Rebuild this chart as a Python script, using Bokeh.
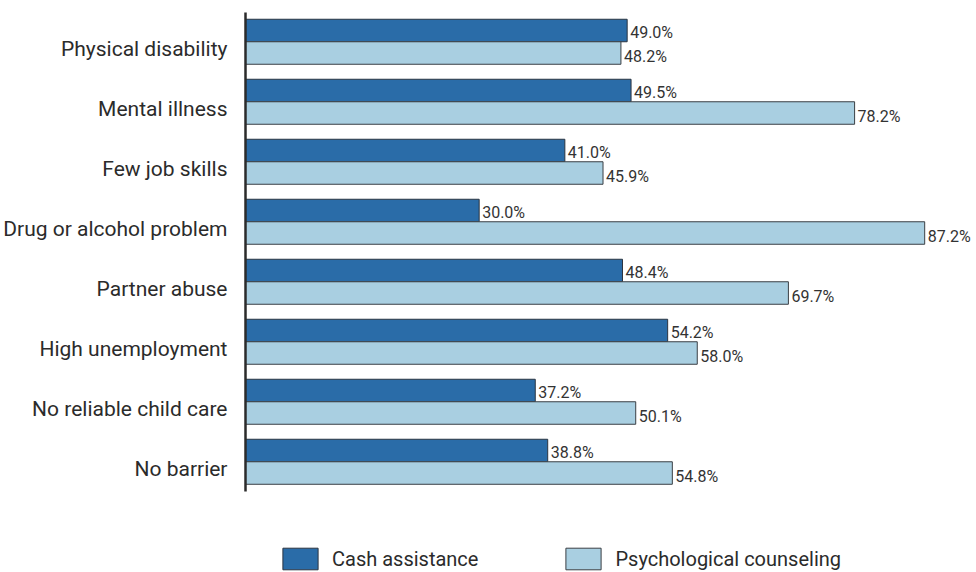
from bokeh.plotting import figure
from bokeh.models import Range1d, FixedTicker, ColumnDataSource, Legend, LegendItem
from bokeh.embed import file_html
from bokeh.resources import INLINE

categories = ["Physical disability", "Mental illness", "Few job skills",
              "Drug or alcohol problem", "Partner abuse", "High unemployment",
              "No reliable child care", "No barrier"]
cash = [49.0, 49.5, 41.0, 30.0, 48.4, 54.2, 37.2, 38.8]
counsel = [48.2, 78.2, 45.9, 87.2, 69.7, 58.0, 50.1, 54.8]
series_names = ["Cash assistance", "Psychological counseling"]

DARK = "#2a6ca8"
LIGHT = "#a9cfe1"
FONT = "Roboto"

idx = list(range(len(categories)))
# frame spans from y=12 to the bottom; 60 px per category
p = figure(width=976, height=572, output_backend="svg", toolbar_location=None,
           x_range=Range1d(0, 93.85), y_range=Range1d(8.733, -0.6),
           min_border_left=243, min_border_right=0, min_border_top=12,
           min_border_bottom=0)
p.outline_line_color = None
p.xgrid.visible = False
p.ygrid.visible = False
p.xaxis.visible = False

src = ColumnDataSource(dict(
    y=idx, yc=[i - 0.3 for i in idx], yl=[i + 0.075 for i in idx],
    cash=cash, counsel=counsel,
    cash_lab=[f"{v:.1f}%" for v in cash],
    counsel_lab=[f"{v:.1f}%" for v in counsel],
))

r1 = p.hbar(y="yc", right="cash", left=0, height=0.375, source=src,
            fill_color=DARK, line_color="#2b3440", line_width=1)
r2 = p.hbar(y="yl", right="counsel", left=0, height=0.375, source=src,
            fill_color=LIGHT, line_color="#3a3f44", line_width=1)

p.text(x="cash", y="yc", text="cash_lab", source=src, x_offset=3, y_offset=2,
       text_baseline="middle", text_align="left", text_font_size="16px",
       text_color="#333333", text_font={"value": FONT})
p.text(x="counsel", y="yl", text="counsel_lab", source=src, x_offset=3, y_offset=3,
       text_baseline="middle", text_align="left", text_font_size="16px",
       text_color="#333333", text_font={"value": FONT})

ax = p.yaxis[0]
ax.ticker = FixedTicker(ticks=idx)
ax.bounds = (-0.6, 7.38)
ax.major_label_overrides = {i: c for i, c in zip(idx, categories)}
ax.major_tick_line_color = None
ax.minor_tick_line_color = None
ax.axis_line_color = "#2b2b2b"
ax.axis_line_width = 2.5
ax.major_label_text_font = FONT
ax.major_label_text_font_size = "21px"
ax.major_label_text_color = "#2b2b2b"
ax.major_label_standoff = 12

lg = Legend(items=[LegendItem(label=series_names[0], renderers=[r1]),
                   LegendItem(label=series_names[1], renderers=[r2])],
            location=(33, 0), orientation="horizontal",
            glyph_width=44, glyph_height=27, label_standoff=10,
            padding=0, margin=0, spacing=83,
            border_line_color=None, background_fill_alpha=0,
            label_text_font=FONT, label_text_font_size="20px",
            label_text_color="#2b2b2b", label_height=27)
p.add_layout(lg, "center")

open("out.html", "w").write(file_html(p, INLINE))
